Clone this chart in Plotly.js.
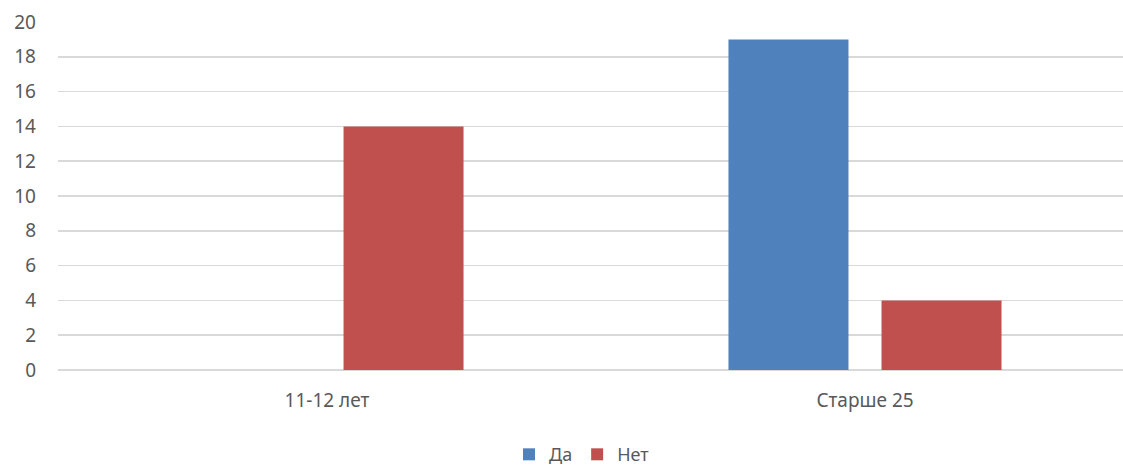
<!DOCTYPE html>
<html>
<head>
<meta charset="utf-8">
<script src="https://cdn.plot.ly/plotly-3.0.1.min.js"></script>
<style>html,body{margin:0;padding:0;background:#fff;overflow:hidden;}#chart{width:1134px;height:480px;}</style>
</head>
<body>
<div id="chart"></div>
<script>
const categories = ["11-12 лет", "Старше 25"];
const seriesNames = ["Да", "Нет"];
const valuesDa = [0, 19];
const valuesNet = [14, 4];
const yTicks = [0, 2, 4, 6, 8, 10, 12, 14, 16, 18, 20];

const font = {family: "Noto Sans, Open Sans, sans-serif", size: 19, color: "#595959"};
const legendFont = {family: "Noto Sans, Open Sans, sans-serif", size: 18, color: "#595959"};

const traces = [
  {type: "bar", name: seriesNames[0], x: categories, y: valuesDa, marker: {color: "#4F81BD"}},
  {type: "bar", name: seriesNames[1], x: categories, y: valuesNet, marker: {color: "#C0504D"}}
];

const layout = {
  width: 1134, height: 480,
  margin: {l: 58, r: 0, t: 22, b: 110},
  paper_bgcolor: "#fff", plot_bgcolor: "#fff",
  font: font,
  barmode: "group",
  bargap: 0.431,
  bargroupgap: 0.216,
  showlegend: true,
  legend: {orientation: "h", x: 0.487, xanchor: "center", y: -0.19, yanchor: "top", font: legendFont, itemwidth: 30, traceorder: "normal"},
  xaxis: {type: "category", showgrid: false, showline: false, zeroline: false, ticks: "", tickfont: font, ticklabelstandoff: 17},
  yaxis: {range: [0, 20], tickvals: yTicks, ticktext: yTicks.map(String), showgrid: true, gridcolor: "#D9D9D9", gridwidth: 1.5, zeroline: true, zerolinecolor: "#D9D9D9", zerolinewidth: 1.5, showline: false, ticks: "", tickfont: font, ticklabelstandoff: 21, fixedrange: true}
};

Plotly.newPlot("chart", traces, layout, {displayModeBar: false, staticPlot: true});
</script>
</body>
</html>
